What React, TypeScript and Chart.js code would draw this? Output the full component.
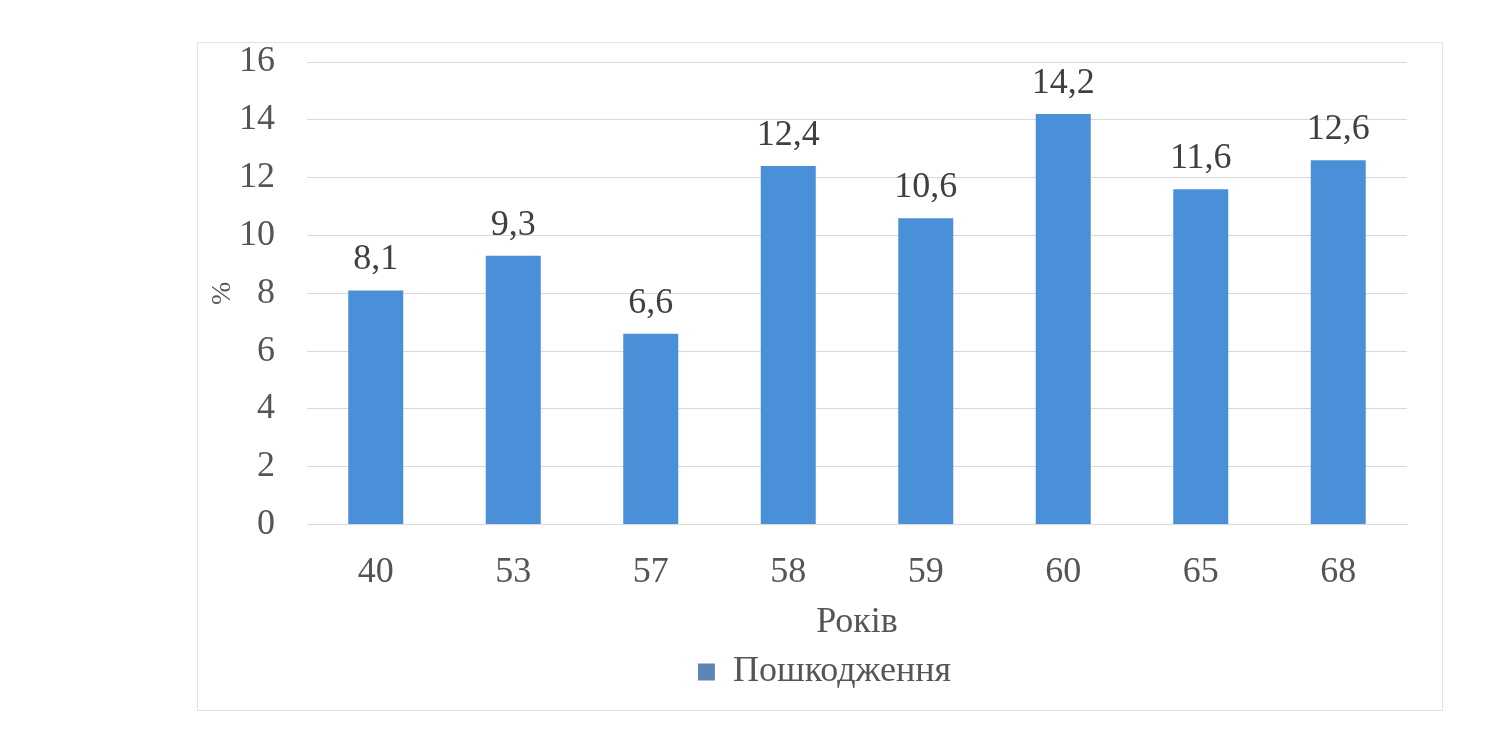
import React, { useEffect, useRef } from "react";
import { Chart, registerables } from "chart.js";

Chart.register(...registerables);

const categories: string[] = ["40", "53", "57", "58", "59", "60", "65", "68"];
const seriesName = "Пошкодження";
const values: number[] = [8.1, 9.3, 6.6, 12.4, 10.6, 14.2, 11.6, 12.6];
const yTicks: number[] = [0, 2, 4, 6, 8, 10, 12, 14, 16];
const xTitle = "Років";
const yTitle = "%";

const FONT = "'Liberation Serif', 'DejaVu Serif', serif";
const TEXT = "#555555";
const BAR = "#4a90d8";
const LEGEND_BOX = "#5b87b0";

const frame = {
  id: "frame",
  beforeDraw(chart: any) {
    const ctx = chart.ctx;
    ctx.save();
    ctx.fillStyle = "#ffffff";
    ctx.fillRect(0, 0, chart.width, chart.height);
    ctx.strokeStyle = "#e3e3e3";
    ctx.lineWidth = 1;
    ctx.strokeRect(197.5, 42.5, 1245, 668);
    ctx.restore();
  },
};

const legendShift = {
  id: "legendShift",
  afterLayout(chart: any) {
    const lg = chart.legend;
    if (lg) {
      lg.left += 21;
      lg.right += 21;
    }
  },
};

const dataLabels = {
  id: "dataLabels",
  afterDatasetsDraw(chart: any) {
    const ctx = chart.ctx;
    const meta = chart.getDatasetMeta(0);
    ctx.save();
    ctx.font = `36px ${FONT}`;
    ctx.fillStyle = "#404040";
    ctx.textAlign = "center";
    ctx.textBaseline = "alphabetic";
    meta.data.forEach((bar: any, i: number) => {
      const v = chart.data.datasets[0].data[i] as number;
      ctx.fillText(v.toFixed(1).replace(".", ","), bar.x, bar.y - 21);
    });
    ctx.restore();
  },
};

export default function App() {
  const ref = useRef<HTMLCanvasElement | null>(null);
  useEffect(() => {
    if (!ref.current) return;
    const chart = new Chart(ref.current, {
      type: "bar",
      data: {
        labels: categories,
        datasets: [
          {
            label: seriesName,
            data: values,
            backgroundColor: BAR,
            borderWidth: 0,
            categoryPercentage: 1,
            barPercentage: 0.4,
          },
        ],
      },
      options: {
        responsive: false,
        animation: false,
        layout: { padding: { left: 200, right: 85, top: 62, bottom: 32 } },
        plugins: {
          tooltip: { enabled: false },
          legend: {
            display: true,
            position: "bottom",
            labels: {
              font: { family: FONT, size: 36 },
              color: TEXT,
              boxWidth: 17,
              boxHeight: 17,
              padding: 10,
              generateLabels: (c: any) => [
                {
                  text: seriesName,
                  fillStyle: LEGEND_BOX,
                  strokeStyle: LEGEND_BOX,
                  lineWidth: 0,
                  datasetIndex: 0,
                  fontColor: TEXT,
                },
              ],
            },
          },
        },
        scales: {
          x: {
            grid: { display: false, drawTicks: false },
            border: { display: true, color: "#d9d9d9" },
            ticks: { font: { family: FONT, size: 36 }, color: TEXT, padding: 26 },
            title: {
              display: true,
              text: xTitle,
              font: { family: FONT, size: 36 },
              color: TEXT,
              padding: { top: 6, bottom: 0 },
            },
            afterFit: (s: any) => {
              s.height = s.height - 25;
            },
          },
          y: {
            min: 0,
            max: 16,
            afterBuildTicks: (s: any) => {
              s.ticks = yTicks.map((v) => ({ value: v }));
            },
            grid: { color: "#d9d9d9", drawTicks: false },
            border: { display: false },
            ticks: {
              font: { family: FONT, size: 36 },
              color: TEXT,
              padding: 32,
              stepSize: 2,
            },
            title: {
              display: true,
              text: yTitle,
              font: { family: FONT, size: 28 },
              color: TEXT,
              padding: { top: 6, bottom: 4 },
            },
            afterFit: (s: any) => {
              s.width = 107;
            },
          },
        },
      },
      plugins: [frame, legendShift, dataLabels],
    });
    return () => chart.destroy();
  }, []);
  return (
    <div style={{ position: "fixed", left: 0, top: 0, width: 1492, height: 732 }}>
      <canvas ref={ref} width={1492} height={732} style={{ display: "block" }} />
    </div>
  );
}
